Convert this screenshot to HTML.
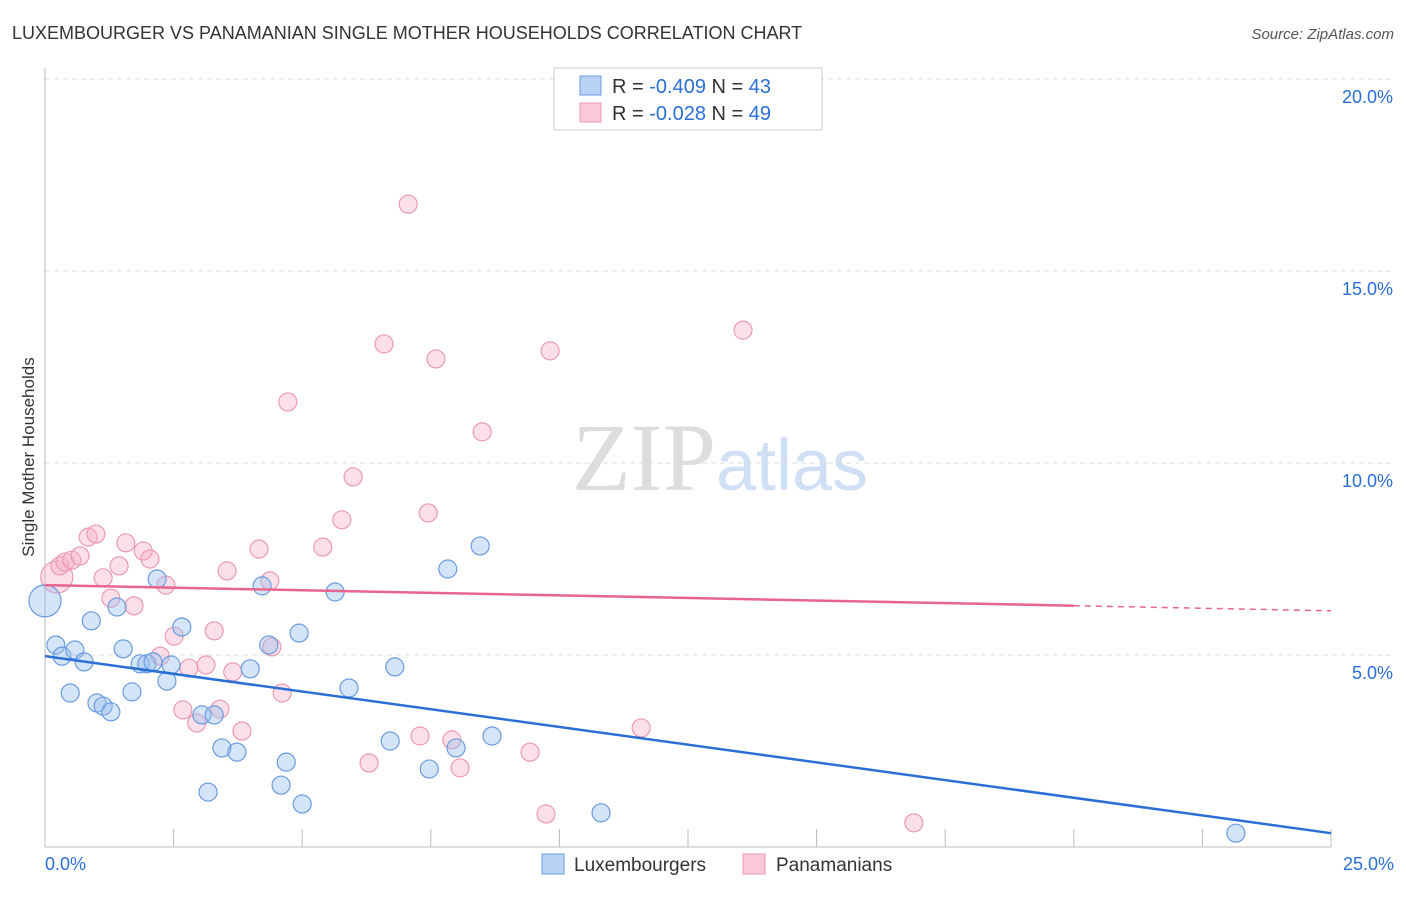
<!DOCTYPE html>
<html><head><meta charset="utf-8"><style>
body{margin:0;background:#fff;font-family:"Liberation Sans",sans-serif;}
</style></head><body>
<svg id="chart" width="1406" height="892" xmlns="http://www.w3.org/2000/svg" style="font-family:'Liberation Sans',sans-serif">
<text x="12" y="39" font-size="18" fill="#333">LUXEMBOURGER VS PANAMANIAN SINGLE MOTHER HOUSEHOLDS CORRELATION CHART</text>
<text x="1394" y="39" font-size="15" fill="#555" text-anchor="end" font-style="italic">Source: ZipAtlas.com</text>
<text transform="translate(34,457) rotate(-90)" font-size="17" fill="#333" text-anchor="middle">Single Mother Households</text>
<text x="720" y="490" font-size="96" text-anchor="middle" fill="#ddd" font-family="Liberation Serif,serif">ZIP<tspan fill="#cfe0f5" font-family="Liberation Sans,sans-serif" font-size="72">atlas</tspan></text>
<g id="grid"></g><g id="ticks"></g><g id="pts"></g><g id="lines"></g>
<g>
<rect x="554" y="68" width="268" height="62" fill="#fff" stroke="#ccc"/>
<rect x="580" y="76" width="21" height="19" fill="#b9d3f4" stroke="#6a9be0"/>
<rect x="580" y="103" width="21" height="19" fill="#f9c9d7" stroke="#eb9ab4"/>
<text x="612" y="93" font-size="20" fill="#333">R = <tspan fill="#2a6fd6">-0.409</tspan>   N = <tspan fill="#2a6fd6">43</tspan></text>
<text x="612" y="120" font-size="20" fill="#333">R = <tspan fill="#2a6fd6">-0.028</tspan>   N = <tspan fill="#2a6fd6">49</tspan></text>
</g>
<g>
<rect x="542" y="854" width="22" height="20" fill="#b9d3f4" stroke="#6a9be0"/>
<text x="574" y="871" font-size="19" fill="#333">Luxembourgers</text>
<rect x="743" y="854" width="22" height="20" fill="#f9c9d7" stroke="#eb9ab4"/>
<text x="776" y="871" font-size="19" fill="#333">Panamanians</text>
</g>
</svg>
<script>
const yTicks=[5,10,15,20];
const xTickLabels=["0.0%","25.0%"];
const luxX=[0.21,0.33,0.49,0.58,0.76,0.90,1.01,1.13,1.28,1.40,1.52,1.69,1.85,1.98,2.10,2.18,2.37,2.45,2.66,3.05,3.17,3.29,3.44,3.73,3.99,4.22,4.35,4.59,4.69,4.94,5.00,5.64,5.91,6.71,6.80,7.47,7.83,7.99,8.46,8.69,10.81,23.15,0];
const luxY=[5.26,4.97,4.01,5.13,4.82,5.89,3.75,3.67,3.52,6.25,5.16,4.04,4.77,4.77,4.82,6.98,4.32,4.74,5.73,3.44,1.43,3.44,2.58,2.47,4.64,6.80,5.26,1.61,2.21,5.57,1.12,6.64,4.14,2.76,4.69,2.03,7.24,2.58,7.84,2.89,0.89,0.36,6.41];
const panX=[0.23,0.29,0.39,0.52,0.68,0.84,0.99,1.13,1.28,1.44,1.57,1.73,1.91,2.04,2.24,2.35,2.51,2.68,2.80,2.95,3.13,3.29,3.40,3.54,3.65,3.83,4.16,4.37,4.41,4.61,4.72,5.40,5.77,5.99,6.30,6.59,7.06,7.29,7.45,7.60,7.91,8.07,8.50,9.43,9.74,9.82,11.59,13.57,16.89];
const panY=[7.03,7.32,7.42,7.47,7.58,8.07,8.15,7.01,6.48,7.32,7.92,6.28,7.71,7.50,4.97,6.82,5.49,3.57,4.66,3.23,4.74,5.63,3.59,7.19,4.56,3.02,7.76,6.93,5.21,4.01,11.59,7.81,8.52,9.64,2.19,13.10,16.74,2.89,8.70,12.71,2.79,2.06,10.81,2.47,0.86,12.92,3.10,13.46,0.63];
const luxTrend=[4.97,0.36];
const panTrend=[6.82,6.15];
const X=v=>45+v/25*1286, Y=v=>847-v*38.4;
const NS="http://www.w3.org/2000/svg";
function mk(tag,attrs,parent){const e=document.createElementNS(NS,tag);for(const k in attrs)e.setAttribute(k,attrs[k]);parent.appendChild(e);return e;}
const grid=document.getElementById('grid'),ticks=document.getElementById('ticks'),pts=document.getElementById('pts'),lines=document.getElementById('lines');
yTicks.forEach(t=>{
 const l=mk('line',{x1:45,x2:1394,y1:Y(t),y2:Y(t),stroke:'#ddd','stroke-dasharray':'5,4'},grid);
 
 
 const tx=mk('text',{x:1393,y:Y(t)+24,'font-size':18,fill:'#2a6fd6','text-anchor':'end'},ticks);
 tx.textContent=t.toFixed(1)+'%';
 
 
});
const ax=mk('line',{x1:45,x2:45,y1:68,y2:847,stroke:'#bbb'},grid);


const bx=mk('line',{x1:45,x2:1331,y1:847,y2:847,stroke:'#bbb'},grid);


for(let i=1;i<=10;i++){const t=mk('line',{x1:X(i*2.5),x2:X(i*2.5),y1:829,y2:847,stroke:'#bbb'},ticks);
 
 }
[[0,'start',45],[25,'end',1394]].forEach((d,i)=>{const t=mk('text',{x:d[2],y:870,'font-size':18,fill:'#2a6fd6','text-anchor':d[1]},ticks);t.textContent=xTickLabels[i];
 
 });
function dots(xs,ys,fill,stroke,name,bigIdx){xs.forEach((x,i)=>{const c=mk('circle',{cx:X(x),cy:Y(ys[i]),r:i===bigIdx?16:9,fill:fill,stroke:stroke,'stroke-width':1.2},pts);
 
 });}
dots(panX,panY,'rgba(247,176,198,0.4)','#eb9ab4','panamanian-point',0);
dots(luxX,luxY,'rgba(150,190,240,0.4)','#6a9be0','luxembourger-point',42);
const bl=mk('line',{x1:X(0),y1:Y(luxTrend[0]),x2:X(25),y2:Y(luxTrend[1]),stroke:'#2a6fd6','stroke-width':2.5},lines);


const p20=panTrend[0]+(panTrend[1]-panTrend[0])*0.8;
const pl=mk('line',{x1:X(0),y1:Y(panTrend[0]),x2:X(20),y2:Y(p20),stroke:'#e8648e','stroke-width':2.5},lines);


const pd=mk('line',{x1:X(20),y1:Y(p20),x2:X(25),y2:Y(panTrend[1]),stroke:'#e8648e','stroke-width':1.5,'stroke-dasharray':'6,5'},lines);


</script>
</body></html>
